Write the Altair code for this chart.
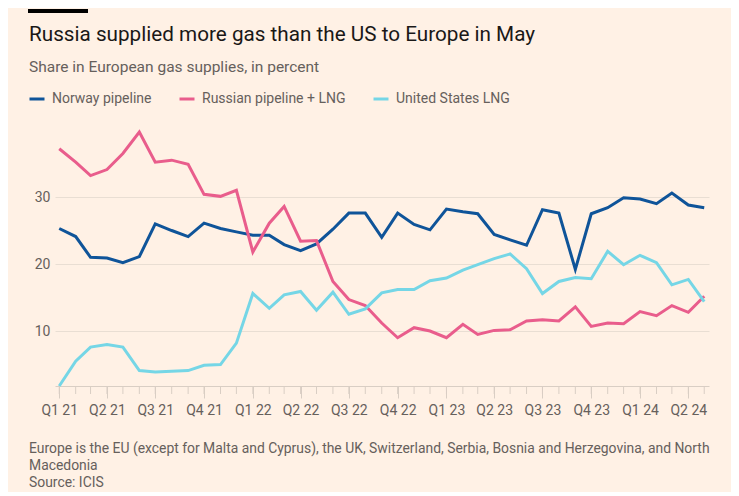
import altair as alt
import pandas as pd

# ---- data ----
months = pd.date_range("2021-01-01", periods=41, freq="MS")
norway = [25.3, 24.1, 21.0, 20.9, 20.2, 21.1, 26.0, 25.0, 24.1, 26.1, 25.3, 24.8,
          24.3, 24.3, 22.9, 22.0, 23.0, 25.2, 27.6, 27.6, 24.0, 27.6, 25.9, 25.1,
          28.2, 27.8, 27.5, 24.4, 23.6, 22.8, 28.1, 27.6, 19.2, 27.5, 28.4, 29.9,
          29.7, 29.0, 30.6, 28.8, 28.4]
russia = [37.2, 35.2, 33.2, 34.1, 36.5, 39.7, 35.2, 35.5, 34.9, 30.4, 30.1, 31.0,
          21.8, 26.1, 28.6, 23.4, 23.5, 17.4, 14.7, 13.8, 11.2, 9.0, 10.5, 10.0,
          9.0, 11.0, 9.5, 10.1, 10.2, 11.5, 11.7, 11.5, 13.6, 10.7, 11.2, 11.1,
          12.9, 12.3, 13.8, 12.8, 15.2]
us_lng = [1.8, 5.5, 7.6, 8.0, 7.6, 4.1, 3.9, 4.0, 4.1, 4.9, 5.0, 8.2,
          15.6, 13.4, 15.4, 15.9, 13.1, 15.8, 12.5, 13.3, 15.7, 16.2, 16.2, 17.5,
          17.9, 19.1, 19.9, 20.8, 21.5, 19.3, 15.6, 17.4, 18.0, 17.8, 21.9, 19.9,
          21.3, 20.2, 16.9, 17.7, 14.4]
series_names = ["Norway pipeline", "Russian pipeline + LNG", "United States LNG"]
series_colors = ["#0F5499", "#E95D8C", "#75D6E6"]

quarter_ticks = [alt.DateTime(year=2021 + q // 4, month=(q % 4) * 3 + 1, date=1, utc=True)
                 for q in range(14)]
y_ticks = [10, 20, 30]

title = "Russia supplied more gas than the US to Europe in May"
subtitle = "Share in European gas supplies, in percent"
footer = ["Europe is the EU (except for Malta and Cyprus), the UK, Switzerland, Serbia, Bosnia and Herzegovina, and North",
          "Macedonia",
          "Source: ICIS"]

rows = []
for name, vals in zip(series_names, [norway, russia, us_lng]):
    for m, v in zip(months, vals):
        rows.append({"month": m.strftime("%Y-%m-%d"), "series": name, "share": v})
df = pd.DataFrame(rows)
tick_df = pd.DataFrame({"month": [m.strftime("%Y-%m-%d") for m in months]})

W, H = 654, 256
FONT = "Roboto"
GREY = "#66605C"

x_scale = alt.Scale(type="utc",
                    domain=[alt.DateTime(year=2020, month=12, date=24, utc=True),
                            alt.DateTime(year=2024, month=5, date=10, utc=True)])
y_scale = alt.Scale(domain=[1.8, 40], nice=False, zero=False)

lines = alt.Chart(df).mark_line(strokeWidth=3, strokeJoin="miter").encode(
    x=alt.X("month:T", scale=x_scale, title=None,
            axis=alt.Axis(values=quarter_ticks, format="Q%q %y", tickSize=12,
                          tickColor="#D9CEC4", domainColor="#D9CEC4", labelPadding=5,
                          labelFontSize=14, labelColor=GREY, labelFont=FONT, grid=False,
                          labelOverlap=False, labelFlush=False)),
    y=alt.Y("share:Q", scale=y_scale, title=None,
            axis=alt.Axis(values=y_ticks, domain=False, ticks=False, labelPadding=5,
                          labelFontSize=14, labelColor=GREY, labelFont=FONT,
                          gridColor="#E9DED3", gridWidth=1)),
    color=alt.Color("series:N",
                    scale=alt.Scale(domain=series_names, range=series_colors),
                    legend=alt.Legend(orient="none", legendX=-27, legendY=-40,
                                      direction="horizontal", title=None,
                                      symbolType="stroke", symbolSize=225,
                                      symbolStrokeWidth=3, labelFontSize=14,
                                      labelColor=GREY, labelFont=FONT,
                                      labelOffset=6, columnPadding=21)),
    order=alt.Order("series:N"),
)

minor_ticks = alt.Chart(tick_df).mark_rule(color="#D9CEC4", strokeWidth=1).encode(
    x=alt.X("month:T", scale=x_scale),
    y=alt.value(H), y2=alt.value(H + 8),
)

def text_layer(txt, x, y, size, color):
    return alt.Chart(pd.DataFrame({"t": [txt]})).mark_text(
        align="left", baseline="alphabetic", font=FONT, fontSize=size, color=color
    ).encode(text="t:N", x=alt.value(x), y=alt.value(y))

bar = alt.Chart(pd.DataFrame({"a": [0]})).mark_rule(color="#000000", strokeWidth=4).encode(
    x=alt.value(-27), x2=alt.value(33), y=alt.value(-119))

texts = [text_layer(title, -26, -89, 20.7, "#1A1817"),
         text_layer(subtitle, -26, -58, 15.5, GREY)]
for i, line in enumerate(footer):
    texts.append(text_layer(line, -26, 323 + 17 * i, 13.9, GREY))

chart = alt.layer(minor_ticks, lines, bar, *texts).properties(
    width=W, height=H,
    autosize=alt.AutoSizeParams(type="none"),
    padding={"left": 47, "top": 122, "right": 22, "bottom": 106},
    background="#FFF1E5",
).configure_view(stroke=None)

chart.save("out.html", embed_options={"renderer": "svg", "actions": False})
